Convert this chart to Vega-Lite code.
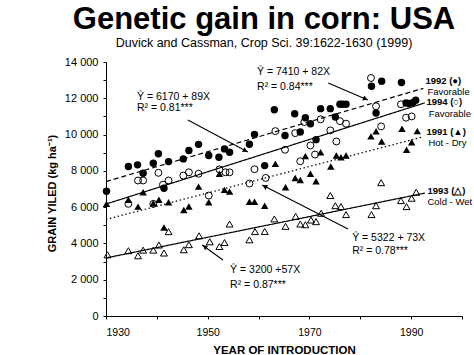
{
  "$schema": "https://vega.github.io/schema/vega-lite/v6.json",
  "width": 356,
  "height": 254,
  "autosize": {"type": "none"},
  "padding": {"left": 106, "top": 62, "right": 12, "bottom": 39},
  "background": "white",
  "config": {
    "view": {"stroke": null},
    "font": "Liberation Sans",
    "axis": {"domainColor": "black", "tickColor": "black", "labelColor": "black", "titleColor": "black", "grid": false, "tickSize": 3, "labelFont": "Liberation Sans", "titleFont": "Liberation Sans"}
  },
  "title": {
    "text": "Genetic gain in corn: USA",
    "subtitle": "Duvick and Cassman, Crop Sci. 39:1622-1630 (1999)",
    "anchor": "middle",
    "dx": -20,
    "offset": 6,
    "font": "Liberation Sans",
    "fontSize": 31,
    "fontWeight": "bold",
    "color": "black",
    "subtitleFont": "Liberation Sans",
    "subtitleFontSize": 12.5,
    "subtitleColor": "black",
    "subtitlePadding": 1
  },
  "datasets": {
    "pts": [
      {"s": "1992", "x": 1930.1, "y": 6880}, {"s": "1992", "x": 1934.4, "y": 8240}, {"s": "1992", "x": 1936.2, "y": 8330},
      {"s": "1992", "x": 1937.3, "y": 7870}, {"s": "1992", "x": 1939.3, "y": 8420}, {"s": "1992", "x": 1940.3, "y": 8940},
      {"s": "1992", "x": 1941.4, "y": 7040}, {"s": "1992", "x": 1942.3, "y": 8510}, {"s": "1992", "x": 1945.2, "y": 8660},
      {"s": "1992", "x": 1946.3, "y": 9120}, {"s": "1992", "x": 1948.2, "y": 9460}, {"s": "1992", "x": 1950.2, "y": 8850},
      {"s": "1992", "x": 1952.2, "y": 8750}, {"s": "1992", "x": 1953.3, "y": 9210}, {"s": "1992", "x": 1954.3, "y": 9030},
      {"s": "1992", "x": 1958.2, "y": 9470}, {"s": "1992", "x": 1959.2, "y": 10000}, {"s": "1992", "x": 1961.2, "y": 8290},
      {"s": "1992", "x": 1963.1, "y": 11370}, {"s": "1992", "x": 1965.2, "y": 9950}, {"s": "1992", "x": 1967.1, "y": 11150},
      {"s": "1992", "x": 1968.2, "y": 10140}, {"s": "1992", "x": 1969.2, "y": 10930}, {"s": "1992", "x": 1970.2, "y": 10600},
      {"s": "1992", "x": 1971.3, "y": 9720}, {"s": "1992", "x": 1972.2, "y": 11430}, {"s": "1992", "x": 1974.1, "y": 11430},
      {"s": "1992", "x": 1975.1, "y": 10970}, {"s": "1992", "x": 1976.0, "y": 11670}, {"s": "1992", "x": 1976.5, "y": 11670},
      {"s": "1992", "x": 1977.2, "y": 11670}, {"s": "1992", "x": 1982.2, "y": 12660}, {"s": "1992", "x": 1983.1, "y": 11190},
      {"s": "1992", "x": 1984.2, "y": 12940}, {"s": "1992", "x": 1988.1, "y": 12870}, {"s": "1992", "x": 1989.0, "y": 11740},
      {"s": "1992", "x": 1989.6, "y": 11720}, {"s": "1992", "x": 1990.3, "y": 11760}, {"s": "1992", "x": 1990.9, "y": 11890},

      {"s": "1994", "x": 1934.4, "y": 6180}, {"s": "1994", "x": 1936.3, "y": 7470}, {"s": "1994", "x": 1937.3, "y": 7470},
      {"s": "1994", "x": 1939.3, "y": 6180}, {"s": "1994", "x": 1940.3, "y": 7890}, {"s": "1994", "x": 1941.2, "y": 7240},
      {"s": "1994", "x": 1942.3, "y": 7470}, {"s": "1994", "x": 1945.2, "y": 7740}, {"s": "1994", "x": 1946.3, "y": 7920},
      {"s": "1994", "x": 1948.2, "y": 7840}, {"s": "1994", "x": 1950.2, "y": 6640}, {"s": "1994", "x": 1952.3, "y": 8080},
      {"s": "1994", "x": 1953.5, "y": 7920}, {"s": "1994", "x": 1954.3, "y": 7920}, {"s": "1994", "x": 1958.2, "y": 7300},
      {"s": "1994", "x": 1959.2, "y": 8090}, {"s": "1994", "x": 1961.4, "y": 7610}, {"s": "1994", "x": 1963.3, "y": 10190},
      {"s": "1994", "x": 1965.2, "y": 9160}, {"s": "1994", "x": 1967.2, "y": 10080}, {"s": "1994", "x": 1968.2, "y": 8530},
      {"s": "1994", "x": 1969.0, "y": 10690}, {"s": "1994", "x": 1970.2, "y": 9400}, {"s": "1994", "x": 1971.1, "y": 8900},
      {"s": "1994", "x": 1972.2, "y": 10840}, {"s": "1994", "x": 1974.1, "y": 10230}, {"s": "1994", "x": 1975.3, "y": 9620},
      {"s": "1994", "x": 1976.0, "y": 10740}, {"s": "1994", "x": 1977.2, "y": 10600}, {"s": "1994", "x": 1982.1, "y": 13120},
      {"s": "1994", "x": 1983.1, "y": 11560}, {"s": "1994", "x": 1984.1, "y": 10450}, {"s": "1994", "x": 1988.0, "y": 11670},
      {"s": "1994", "x": 1989.0, "y": 10930}, {"s": "1994", "x": 1990.1, "y": 11000},

      {"s": "1991", "x": 1930.1, "y": 6180}, {"s": "1991", "x": 1934.4, "y": 6410}, {"s": "1991", "x": 1936.3, "y": 6030},
      {"s": "1991", "x": 1937.3, "y": 6820}, {"s": "1991", "x": 1939.3, "y": 6210}, {"s": "1991", "x": 1940.4, "y": 6410},
      {"s": "1991", "x": 1941.4, "y": 4880}, {"s": "1991", "x": 1942.3, "y": 6270}, {"s": "1991", "x": 1945.3, "y": 5840},
      {"s": "1991", "x": 1946.3, "y": 6040}, {"s": "1991", "x": 1948.2, "y": 7130}, {"s": "1991", "x": 1950.2, "y": 6270},
      {"s": "1991", "x": 1952.3, "y": 7840}, {"s": "1991", "x": 1953.3, "y": 6950}, {"s": "1991", "x": 1954.3, "y": 6860},
      {"s": "1991", "x": 1958.2, "y": 6300}, {"s": "1991", "x": 1959.2, "y": 6300}, {"s": "1991", "x": 1961.2, "y": 6080},
      {"s": "1991", "x": 1963.3, "y": 8390}, {"s": "1991", "x": 1965.3, "y": 7100}, {"s": "1991", "x": 1967.2, "y": 7610},
      {"s": "1991", "x": 1968.2, "y": 7500}, {"s": "1991", "x": 1969.2, "y": 8810}, {"s": "1991", "x": 1970.2, "y": 7840},
      {"s": "1991", "x": 1971.3, "y": 7430}, {"s": "1991", "x": 1972.2, "y": 9030}, {"s": "1991", "x": 1974.2, "y": 8240},
      {"s": "1991", "x": 1975.3, "y": 8850}, {"s": "1991", "x": 1976.2, "y": 8750}, {"s": "1991", "x": 1977.2, "y": 8850},
      {"s": "1991", "x": 1982.1, "y": 9900}, {"s": "1991", "x": 1983.1, "y": 10180}, {"s": "1991", "x": 1984.2, "y": 9620},
      {"s": "1991", "x": 1988.2, "y": 10320}, {"s": "1991", "x": 1989.1, "y": 9160}, {"s": "1991", "x": 1990.1, "y": 9580},
      {"s": "1991", "x": 1991.2, "y": 10190},

      {"s": "1993", "x": 1930.3, "y": 3370}, {"s": "1993", "x": 1934.4, "y": 3600}, {"s": "1993", "x": 1936.3, "y": 3320},
      {"s": "1993", "x": 1937.3, "y": 3630}, {"s": "1993", "x": 1939.3, "y": 3630}, {"s": "1993", "x": 1940.4, "y": 3910},
      {"s": "1993", "x": 1941.4, "y": 3470}, {"s": "1993", "x": 1942.3, "y": 4650}, {"s": "1993", "x": 1945.3, "y": 3650},
      {"s": "1993", "x": 1946.3, "y": 3930}, {"s": "1993", "x": 1948.3, "y": 4420}, {"s": "1993", "x": 1950.4, "y": 4090},
      {"s": "1993", "x": 1952.3, "y": 3830}, {"s": "1993", "x": 1953.3, "y": 4050}, {"s": "1993", "x": 1954.3, "y": 5070},
      {"s": "1993", "x": 1958.2, "y": 4200}, {"s": "1993", "x": 1959.3, "y": 4650}, {"s": "1993", "x": 1961.2, "y": 4660},
      {"s": "1993", "x": 1963.1, "y": 5350}, {"s": "1993", "x": 1965.3, "y": 4940}, {"s": "1993", "x": 1967.3, "y": 5490},
      {"s": "1993", "x": 1968.2, "y": 5070}, {"s": "1993", "x": 1969.2, "y": 5030}, {"s": "1993", "x": 1970.3, "y": 5290},
      {"s": "1993", "x": 1971.3, "y": 5200}, {"s": "1993", "x": 1972.3, "y": 5660}, {"s": "1993", "x": 1974.1, "y": 6640},
      {"s": "1993", "x": 1975.1, "y": 6080}, {"s": "1993", "x": 1976.2, "y": 6030}, {"s": "1993", "x": 1977.2, "y": 5590},
      {"s": "1993", "x": 1982.2, "y": 5590}, {"s": "1993", "x": 1983.1, "y": 6080}, {"s": "1993", "x": 1984.1, "y": 7350},
      {"s": "1993", "x": 1988.0, "y": 6360}, {"s": "1993", "x": 1989.1, "y": 6030}, {"s": "1993", "x": 1990.1, "y": 6490},
      {"s": "1993", "x": 1991.0, "y": 6820}
    ],
    "fits": [
      {"s": "1992", "x": 1930, "y": 7410}, {"s": "1992", "x": 1992.4, "y": 12550},
      {"s": "1994", "x": 1930, "y": 6170}, {"s": "1994", "x": 1992.7, "y": 11750},
      {"s": "1991", "x": 1930, "y": 5322}, {"s": "1991", "x": 1992.4, "y": 9877},
      {"s": "1993", "x": 1930, "y": 3200}, {"s": "1993", "x": 1992.7, "y": 6774}
    ],
    "arrows": [
      {"a": 1, "x": 1946.1, "y": 10800}, {"a": 1, "x": 1957.9, "y": 9036},
      {"a": 2, "x": 1973.7, "y": 12840}, {"a": 2, "x": 1981.5, "y": 11900},
      {"a": 3, "x": 1977.6, "y": 4794}, {"a": 3, "x": 1960.7, "y": 7218},
      {"a": 4, "x": 1953.0, "y": 3086}, {"a": 4, "x": 1948.9, "y": 3912}
    ],
    "heads": [
      {"a": 1, "x": 1957.4, "y": 9113, "ang": 118},
      {"a": 2, "x": 1981.0, "y": 11968, "ang": 113},
      {"a": 3, "x": 1961.2, "y": 7141, "ang": 297},
      {"a": 4, "x": 1949.4, "y": 3818, "ang": 305}
    ],
    "labels": [
      {"t": "Ŷ = 6170 + 89X", "x": 1936.1, "y": 12067, "w": "n"},
      {"t": "R² = 0.81***", "x": 1936.1, "y": 11444, "w": "n"},
      {"t": "Ŷ = 7410 + 82X", "x": 1959.7, "y": 13444, "w": "n"},
      {"t": "R² = 0.84***", "x": 1959.7, "y": 12618, "w": "n"},
      {"t": "Ŷ = 5322 + 73X", "x": 1978.4, "y": 4298, "w": "n"},
      {"t": "R² = 0.78***", "x": 1978.4, "y": 3582, "w": "n"},
      {"t": "Ŷ = 3200 +57X", "x": 1954.4, "y": 2535, "w": "n"},
      {"t": "R² = 0.87***", "x": 1954.4, "y": 1708, "w": "n"},
      {"t": "1992 (●)", "x": 1992.8, "y": 12940, "w": "b"},
      {"t": "Favorable", "x": 1993.2, "y": 12350, "w": "l"},
      {"t": "1994 (○)", "x": 1993.0, "y": 11780, "w": "b"},
      {"t": "Favorable", "x": 1993.45, "y": 11140, "w": "l"},
      {"t": "1991 (▲)", "x": 1993.0, "y": 10125, "w": "b"},
      {"t": "Hot - Dry", "x": 1993.4, "y": 9545, "w": "l"},
      {"t": "1993 (△)", "x": 1993.2, "y": 6875, "w": "b"},
      {"t": "Cold - Wet", "x": 1993.2, "y": 6295, "w": "l"}
    ]
  },
  "encoding": {
    "x": {"field": "x", "type": "quantitative", "scale": {"domain": [1930, 2000], "nice": false, "zero": false},
      "axis": {"title": "YEAR OF INTRODUCTION", "values": [1930, 1940, 1950, 1960, 1970, 1980, 1990, 2000], "format": "d",
        "labelExpr": "datum.value % 20 == 10 ? datum.label : ''", "labelFontSize": 10.5, "labelPadding": 8,
        "titleFontSize": 11.5, "titleFontWeight": "bold", "titlePadding": 7}},
    "y": {"field": "y", "type": "quantitative", "scale": {"domain": [0, 14000], "nice": false},
      "axis": {"title": "GRAIN YILED (kg ha⁻¹)", "values": [0, 1000, 2000, 3000, 4000, 5000, 6000, 7000, 8000, 9000, 10000, 11000, 12000, 13000, 14000],
        "labelExpr": "datum.value % 2000 == 0 ? replace(format(datum.value, ','), ',', ' ') : ''", "labelFontSize": 11, "labelPadding": 5,
        "titleFontSize": 11, "titleFontWeight": "bold", "titleX": -54, "titleY": 131, "titleBaseline": "middle", "titleAngle": 270}}
  },
  "layer": [
    {
      "data": {"name": "fits"},
      "mark": {"type": "line", "color": "black", "strokeWidth": 1.2},
      "encoding": {
        "detail": {"field": "s"},
        "strokeDash": {"field": "s", "type": "nominal", "scale": {"domain": ["1992", "1994", "1991", "1993"], "range": [[5, 3], [1, 0], [1.5, 2.5], [1, 0]]}, "legend": null}
      }
    },
    {
      "data": {"name": "arrows"},
      "mark": {"type": "line", "color": "black", "strokeWidth": 1.1},
      "encoding": {"detail": {"field": "a"}}
    },
    {
      "data": {"name": "heads"},
      "mark": {"type": "point", "shape": "triangle-up", "filled": true, "color": "black", "size": 30, "opacity": 1},
      "encoding": {"angle": {"field": "ang", "type": "quantitative", "scale": null}}
    },
    {
      "data": {"name": "pts"},
      "transform": [{"filter": "datum.s == '1994' || datum.s == '1993'"}],
      "mark": {"type": "point", "filled": false, "color": "black", "strokeWidth": 1, "opacity": 1},
      "encoding": {
        "shape": {"field": "s", "type": "nominal", "scale": {"domain": ["1994", "1993"], "range": ["circle", "triangle-up"]}, "legend": null},
        "size": {"value": 48}
      }
    },
    {
      "data": {"name": "pts"},
      "transform": [{"filter": "datum.s == '1992' || datum.s == '1991'"}],
      "mark": {"type": "point", "filled": true, "color": "black", "opacity": 1},
      "encoding": {
        "shape": {"field": "s", "type": "nominal", "scale": {"domain": ["1992", "1991"], "range": ["circle", "triangle-up"]}, "legend": null},
        "size": {"value": 55}
      }
    },
    {
      "data": {"name": "labels"},
      "transform": [{"filter": "datum.w == 'n'"}],
      "mark": {"type": "text", "align": "left", "baseline": "middle", "fontSize": 10.5, "color": "black", "font": "Liberation Sans"},
      "encoding": {"text": {"field": "t"}}
    },
    {
      "data": {"name": "labels"},
      "transform": [{"filter": "datum.w == 'l'"}],
      "mark": {"type": "text", "align": "left", "baseline": "middle", "fontSize": 9.5, "color": "black", "font": "Liberation Sans"},
      "encoding": {"text": {"field": "t"}}
    },
    {
      "data": {"name": "labels"},
      "transform": [{"filter": "datum.w == 'b'"}],
      "mark": {"type": "text", "align": "left", "baseline": "middle", "fontSize": 9.5, "fontWeight": "bold", "color": "black", "font": "Liberation Sans"},
      "encoding": {"text": {"field": "t"}}
    }
  ]
}
